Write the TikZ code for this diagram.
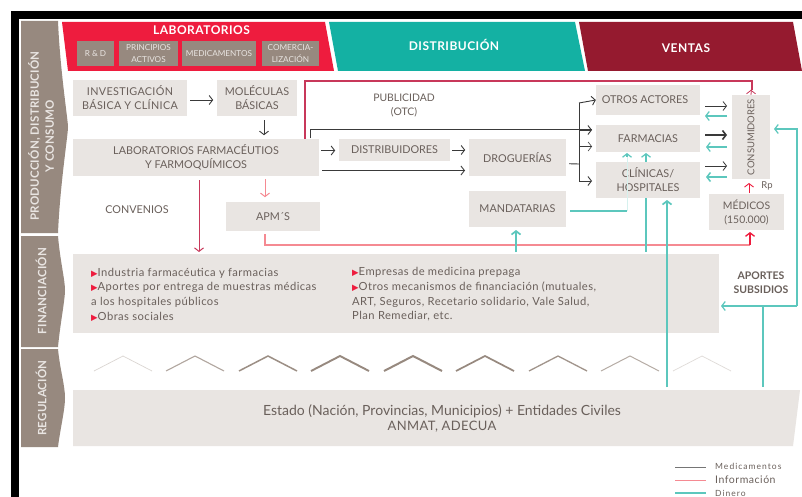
\documentclass[tikz,border=0pt]{standalone}
\usepackage{fontspec}
\setmainfont{Lato}
\newfontfamily\dejavu{DejaVu Sans}
\usetikzlibrary{arrows.meta,calc}
\definecolor{txt}{HTML}{6A605B}
\definecolor{boxc}{HTML}{E9E5E2}
\definecolor{tabc}{HTML}{97897F}
\definecolor{redc}{HTML}{EE1C3E}
\definecolor{tealc}{HTML}{14B1A3}
\definecolor{marc}{HTML}{951A2F}
\definecolor{crim}{HTML}{C8385A}
\definecolor{pinkc}{HTML}{F58A92}
\definecolor{moneyc}{HTML}{5CC7BD}
\definecolor{darkc}{HTML}{3A3A3A}
\newcommand{\bul}{\textcolor{redc}{\dejavu\fontsize{8.5}{8.5}\selectfont ▶}}
\newcommand{\lsp}[1]{\addfontfeature{LetterSpace=#1}}
\tikzset{
 x=1pt,y=-1pt,
 bx/.style={fill=boxc,inner sep=0pt,align=center,text=txt,font=\fontsize{10.8}{14}\selectfont},
 sub/.style={fill=tabc,inner sep=0pt,align=center,text=boxc,font=\fontsize{8.2}{12.5}\selectfont},
 tabt/.style={rotate=90,align=center,text=boxc,font=\fontsize{11.5}{15}\selectfont\bfseries\lsp{2}},
 head/.style={text=white,font=\fontsize{12}{13}\selectfont\bfseries\lsp{4}},
 lab/.style={text=txt,align=center,font=\fontsize{10.4}{14}\selectfont},
 tip/.style={-{Straight Barb[length=3.5pt,width=9pt]}},
 dk/.style={tip,draw=darkc,line width=0.9pt},
 pk/.style={tip,draw=pinkc,line width=1pt},
 cr/.style={tip,draw=crim,line width=1pt},
 tl/.style={tip,draw=moneyc,line width=1.2pt},
 tlthick/.style={tl,line width=1.7pt},
 fintext/.style={anchor=west,text=txt,align=left,inner sep=0pt,font=\fontsize{11.2}{14.6}\selectfont\lsp{4}},
 legt/.style={anchor=west,text=txt,inner sep=0pt},
}
\begin{document}
\begin{tikzpicture}
\useasboundingbox (0,0) rectangle (802,497);
\fill[white] (0,0) rectangle (802,497);
\fill[black] (11,11) rectangle (802,19);
\fill[black] (11,11) rectangle (19,497);
% header bands
\fill[redc] (62,22) -- (325,22) -- (334,71) -- (68,71) -- cycle;
\fill[tealc] (329,22) -- (575,22) -- (585,71) -- (338,71) -- cycle;
\fill[marc] (579,22) -- (793,22) -- (802,71) -- (588,71) -- cycle;
\node[head] (hlab) at (201.5,30.5) {LABORATORIOS};
\node[head] (hdis) at (454,45) {DISTRIBUCIÓN};
\node[head] (hven) at (686,48) {VENTAS};
\node[sub,minimum width=37pt,minimum height=25pt] (s1) at (95.5,53.5) {R \& D};
\node[sub,minimum width=59pt,minimum height=25pt] (s2) at (148.5,53.5) {PRINCIPIOS\\ACTIVOS};
\node[sub,minimum width=74pt,minimum height=25pt] (s3) at (219,53.5) {MEDICAMENTOS};
\node[sub,minimum width=57pt,minimum height=25pt] (s4) at (290.5,53.5) {COMERCIA-\\LIZACIÓN};
% left tabs
\fill[tabc] (21,21) -- (58,21) .. controls (60,70) and (68,120) .. (68,127) .. controls (68,135) and (60,185) .. (58,233) -- (21,233) -- cycle;
\fill[tabc] (21,236) -- (58,236) .. controls (60,260) and (65,280) .. (65,290) .. controls (65,300) and (60,325) .. (58,347) -- (21,347) -- cycle;
\fill[tabc] (21,349) -- (58,349) .. controls (60,370) and (65,385) .. (65,398) .. controls (65,410) and (60,430) .. (58,447) -- (21,447) -- cycle;
\node[tabt] (t1) at (41,136) {PRODUCCIÓN, DISTRIBUCIÓN\\Y CONSUMO};
\node[tabt] (t2) at (41,291) {FINANCIACIÓN};
\node[tabt] (t3) at (41,398) {REGULACIÓN};
% boxes
\node[bx,minimum width=114pt,minimum height=36pt,font=\fontsize{10.8}{14}\selectfont\lsp{3}] (inv) at (130,98) {INVESTIGACIÓN\\BÁSICA Y CLÍNICA};
\node[bx,minimum width=80pt,minimum height=36pt] (mol) at (257,98) {MOLÉCULAS\\BÁSICAS};
\node[bx,minimum width=246pt,minimum height=37pt] (labf) at (196,157.5) {LABORATORIOS FARMACÉUTIOS\hspace{10pt}\\Y FARMOQUÍMICOS\hspace{10pt}};
\node[bx,minimum width=94pt,minimum height=29pt] (apm) at (273,216.5) {APM´S};
\node[bx,minimum width=111pt,minimum height=22pt] (dist) at (394.5,150) {DISTRIBUIDORES};
\node[bx,minimum width=97pt,minimum height=36.5pt] (drog) at (517.5,157.75) {DROGUERÍAS};
\node[bx,minimum width=97pt,minimum height=36pt] (mand) at (517.5,209) {MANDATARIAS};
\node[bx,minimum width=104pt,minimum height=30pt] (otros) at (648,100) {OTROS ACTORES\hspace{6pt}};
\node[bx,minimum width=104pt,minimum height=27pt] (farm) at (648,138.5) {FARMACIAS};
\node[bx,minimum width=104pt,minimum height=36pt] (clin) at (648,180) {CLÍNICAS/\\HOSPITALES};
\node[bx,minimum width=38pt,minimum height=84pt,font=\fontsize{9.5}{10}\selectfont] (cons) at (751,137) {\rotatebox{90}{CONSUMIDORES}};
\node[bx,minimum width=75pt,minimum height=36pt,font=\fontsize{10.4}{14}\selectfont] (med) at (746.5,212) {MÉDICOS\\(150.000)};
\node[bx,minimum width=646pt,minimum height=79pt] (fin) at (396,293.5) {};
\fill[boxc] (73,390) -- (800,390) -- (793,446) -- (73,446) -- cycle;
\node[text=txt,align=center,font=\fontsize{14}{15}\selectfont,inner sep=0pt] (est) at (442,418.5) {Estado (Nación, Provincias, Municipios) + Entidades Civiles\\{\fontsize{13}{15}\selectfont\lsp{3}ANMAT, ADECUA}};
% texts
\node[lab] (pub) at (404,105) {PUBLICIDAD\\(OTC)};
\node[lab,font=\fontsize{10.8}{14}\selectfont] (conv) at (137,210) {CONVENIOS};
\node[lab,font=\fontsize{10.5}{14}\selectfont\bfseries] (apo) at (761,283) {APORTES\\SUBSIDIOS};
\node[text=txt,font=\fontsize{9.5}{10}\selectfont,inner sep=0pt] (rp) at (767,186) {Rp};
\node[fintext] (f1) at (91,294.5) {\bul Industria farmacéutica y farmacias\\\bul Aportes por entrega de muestras médicas\\a los hospitales públicos\\\bul Obras sociales};
\node[fintext] (f2) at (352,294.5) {\bul Empresas de medicina prepaga\\\bul Otros mecanismos de financiación (mutuales,\\ART, Seguros, Recetario solidario, Vale Salud,\\Plan Remediar, etc.};
% chevrons
\foreach \cx/\w/\op in {123/0.7/0.35,195/1.1/0.75,268/1.5/0.95,340/1.9/1,413/2/1,485/1.7/1,558/1.3/0.9,630/1/0.7,702/0.7/0.3}{
  \draw[tabc,opacity=\op,line width=\w pt] (\cx-29,371) -- (\cx,356) -- (\cx+29,371);
}
% connectors: medication
\draw[dk] ([yshift=-2pt]inv.east) ++(3,0) -- ++(23,0) coordinate (a1);
\draw[dk] (mol.south) ++(7,4) -- ++(0,15) coordinate (a2);
\draw[dk] (labf.east) ++(2,-7) -- ++(14,0) coordinate (a3);
\draw[dk] (dist.east) ++(2,0) -- ++(13,0) coordinate (a4);
\draw[dk] (labf.east) ++(3,13) -- (465,170.5) coordinate (a5);
\draw[darkc,line width=1pt] (labf.east) ++(-9,-19) -- ++(0,-8.5) -- (592,130);
\draw[dk] (579,130) -- (592,130);
\draw[darkc,line width=0.9pt] (drog.east) ++(3,6) -- (579,164);
\draw[darkc,line width=1pt] (579,103) -- (579,181);
\draw[dk] (579,103) -- (otros.west) ;
\draw[tip,draw=darkc,line width=0.6pt] (579,146.5) -- (592,146.5);
\draw[dk] (579,181) -- (592,181);
\draw[dk,line width=0.8pt] (otros.east) ++(5,6) -- (727,106);
\draw[dk,line width=1.6pt] (farm.east) ++(5,-3.5) -- (727,135);
\draw[dk,line width=0.8pt] (clin.east) ++(5,-14) -- (727,166);
% connectors: information
\draw[crim,line width=1.1pt] (labf.north) ++(109,0) -- (305,81) -- (752,81) -- (752,90);
\draw[cr,line width=0.8pt] (752,81) -- (cons.north) ++(0,-5);
\draw[pk] (labf.south) ++(69,3) -- ++(0,18) coordinate (a6);
\draw[cr] (labf.south) ++(3,4) -- (199,252);
\draw[pinkc,line width=1.2pt] (apm.south) ++(-8,3) -- (265,245) -- (750,245);
\draw[tip,draw=redc,line width=1.3pt] (750,245) -- (750,232);
\draw[tip,draw=redc,line width=0.9pt] (749,193) -- (749,183);
% connectors: money
\draw[tl] (otros.east) ++(27,16) -- (705,116);
\draw[tl] (farm.east) ++(27,8.5) -- (706,147);
\draw[tl,line width=1.5pt] (clin.east) ++(27,-3) -- (706,177);
\draw[tl,line width=1.2pt] (797,306) -- (797,129) -- (774,129);
\draw[tl] (797,306) -- (721,306);
\draw[moneyc,line width=1.7pt] (763,306) -- (763,387);
\draw[tlthick] (667,387) -- (667,200);
\draw[moneyc,line width=1.5pt] (646,198) -- (646,252);
\draw[tl] (646,162) -- (646,153);
\draw[moneyc,line width=1.3pt] (570,211) -- (627,211);
\draw[moneyc!25,line width=0.8pt] (627,211) -- (627,155);
\draw[tl] (627,157) -- (627,153);
\draw[tlthick] (516,252) -- (516,230);
% legend
\draw[darkc!70,line width=0.7pt] (675,467) -- (706,467);
\draw[pinkc,line width=0.9pt] (675,480) -- (706,480);
\draw[moneyc,line width=2.2pt] (675,493) -- (706,493);
\node[legt,font=\fontsize{8.5}{9}\selectfont\lsp{12}] (l1) at (715,466) {Medicamentos};
\node[legt,font=\fontsize{10.5}{9}\selectfont\lsp{5}] (l2) at (715,480) {Información};
\node[legt,font=\fontsize{8.5}{9}\selectfont\lsp{12}] (l3) at (715,493) {Dinero};
\end{tikzpicture}
\end{document}
